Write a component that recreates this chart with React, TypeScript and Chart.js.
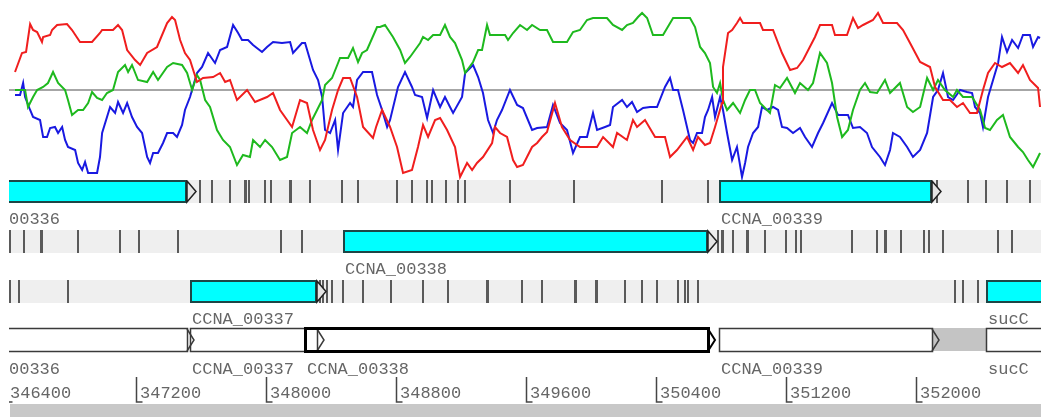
import React, { useEffect, useRef } from "react";
import { Chart, registerables } from "chart.js";

Chart.register(...registerables);

// ---- GC frame plot (x: base position, y: GC %) ----
const redX = [346455,346498,346523,346548,346566,346591,346621,346628,346671,346683,346714,346775,346806,346855,346929,346978,346991,347058,347089,347114,347145,347194,347225,347268,347329,347391,347421,347440,347471,347501,347532,347575,347612,347674,347717,347748,347778,347821,347883,347932,348006,348043,348086,348160,348209,348252,348289,348332,348363,348406,348443,348474,348517,348560,348597,348658,348677,348714,348763,348806,348843,348898,348935,348966,348997,349040,349071,349114,349163,349194,349237,349268,349298,349335,349391,349409,349440,349483,349520,349545,349581,349637,349668,349698,349729,349778,349821,349871,349932,350037,350074,350135,350160,350221,350258,350283,350332,350394,350455,350486,350529,350591,350628,350658,350701,350732,350763,350806,350812,350843,350868,350898,350917,350935,351040,351058,351120,351175,351225,351268,351305,351378,351409,351483,351501,351575,351612,351643,351674,351735,351766,351797,351883,351920,351963,352025,352086,352117,352166,352209,352252,352289,352332,352375,352412,352443,352486,352529,352578,352628,352658,352701,352751,352763];
const redY = [71.2,78.8,79.2,90.4,88.0,87.2,83.2,85.2,86.0,88.0,
  90.0,90.4,88.0,83.2,83.2,86.8,88.0,88.0,90.0,88.0,
  80.0,76.0,74.0,78.8,81.2,90.8,93.2,92.0,84.0,78.8,76.0,
  67.2,68.8,69.2,70.8,67.2,68.0,60.0,64.0,59.2,61.2,
  62.8,56.0,49.2,60.0,58.8,48.0,40.0,44.0,56.0,
  64.0,68.8,68.8,
  61.2,49.2,44.8,49.2,56.0,49.2,41.2,30.8,32.0,41.2,
  50.0,45.2,52.0,52.8,48.0,41.2,29.2,34.8,32.0,34.8,37.2,
  42.8,49.2,46.8,45.2,36.0,33.2,34.0,41.2,42.8,45.2,47.2,
  58.8,49.2,44.0,41.2,41.2,45.2,41.2,46.8,44.0,52.0,49.2,52.0,45.2,45.2,37.2,40.0,45.2,
  40.0,45.2,42.0,42.8,49.2,58.8,73.2,86.8,88.0,90.8,92.8,90.8,
  90.8,88.0,88.0,78.8,72.0,72.8,76.0,85.2,90.0,90.0,86.0,86.0,
  92.8,88.8,90.0,92.0,94.8,90.8,90.8,88.0,82.8,75.2,73.2,65.2,
  60.0,60.0,57.2,58.8,54.8,54.8,64.0,70.8,74.8,73.2,74.8,70.8,74.0,68.0,64.8,57.2];

const greenX = [346455,346517,346535,346566,346591,346628,346658,346689,346720,346763,
  346781,346806,346843,346874,346905,346929,346960,346991,347021,347058,
  347089,347132,347151,347175,347212,347268,347305,347335,347391,347428,
  347483,347514,347545,347575,347594,347625,347655,347698,347735,347778,
  347821,347858,347901,347920,347963,347994,348037,348086,348129,348160,
  348209,348252,348283,348314,348345,348363,348406,348443,348455,348505,
  348535,348566,348591,348621,348683,348701,348732,348781,348825,348855,
  348886,348917,348948,348966,348997,349028,349071,349101,349132,349163,
  349206,349225,349274,349305,349329,349360,349378,349471,349489,349520,
  349563,349606,349637,349686,349729,349766,349852,349889,349932,349975,
  350012,350098,350135,350191,350221,350258,350289,350314,350345,350381,
  350443,350505,350609,350640,350671,350701,350732,350751,350775,350794,
  350812,350837,350874,350917,350948,350978,351009,351040,351101,351132,
  351163,351206,351255,351286,351335,351366,351409,351452,351483,351514,
  351545,351581,351612,351655,351686,351717,351760,351809,351840,351901,
  351945,351981,352025,352068,352105,352135,352178,352228,352252,352289,
  352345,352394,352425,352455,352498,352535,352578,352628,352658,352689,
  352720,352751,352763];
const greenY = [64.0,64.0,57.2,61.2,64.0,65.2,66.8,71.2,66.8,64.0,
  60.0,54.0,56.0,56.0,58.8,63.2,60.8,60.0,62.8,64.0,
  71.2,74.0,71.2,74.0,68.0,67.2,71.2,68.0,73.2,74.8,
  74.0,70.8,64.0,70.0,68.0,60.0,57.2,48.0,44.0,41.2,
  34.0,38.0,37.2,44.0,41.2,44.0,41.2,36.0,37.2,46.8,
  49.2,46.8,52.0,56.0,60.0,66.0,68.8,74.8,76.8,76.8,
  80.8,75.2,78.8,80.0,89.2,89.2,90.0,85.2,80.0,74.8,
  77.2,80.0,82.8,85.2,84.0,86.0,86.0,90.0,85.2,82.8,
  76.0,70.8,75.2,80.0,80.0,90.0,86.0,86.0,84.0,86.8,
  90.0,88.0,90.0,88.0,88.0,83.2,83.2,87.2,88.0,92.0,
  92.8,92.8,90.0,88.0,90.0,90.8,93.2,94.8,92.8,86.0,
  86.0,92.8,92.8,89.2,81.2,78.8,74.8,65.2,62.8,66.8,
  60.0,56.0,58.8,54.8,60.0,64.0,64.0,58.8,54.8,66.0,
  64.8,68.8,62.8,66.8,64.0,66.8,78.8,74.8,66.8,53.2,
  45.2,48.0,56.0,64.0,66.8,63.2,62.8,68.0,62.8,66.8,
  57.2,55.2,57.2,68.8,64.0,68.0,64.0,61.2,64.0,61.2,
  61.2,56.0,48.8,48.0,52.0,54.0,45.2,41.2,39.2,36.0,
  33.2,37.2,38.8];

const blueX = [346455,346486,346505,346517,346548,346566,346609,346628,346652,346671,
  346701,346720,346745,346763,346781,346825,346843,346868,346886,346905,
  346960,346978,346991,347040,347071,347089,347120,347145,347175,347206,
  347237,347268,347286,347305,347335,347366,347391,347428,347452,347483,
  347501,347532,347575,347606,347643,347686,347717,347760,347797,347828,
  347852,347889,347920,347975,348006,348043,348098,348148,348166,348221,
  348240,348289,348320,348345,348363,348394,348425,348443,348474,348517,
  348535,348560,348597,348652,348683,348714,348745,348763,348812,348855,
  348898,348917,348960,348991,349028,349071,349101,349132,349151,349206,
  349225,349274,349305,349335,349366,349397,349421,349452,349501,349545,
  349581,349637,349668,349729,349766,349809,349852,349889,349932,349975,
  350012,350037,350086,350117,350135,350191,350221,350252,350283,350320,
  350363,350406,350455,350486,350505,350535,350566,350609,350628,350652,
  350683,350701,350720,350745,350763,350794,350812,350837,350868,350898,
  350929,350948,350966,350997,351028,351052,351083,351120,351151,351175,
  351206,351243,351286,351317,351360,351397,351428,351483,351520,351581,
  351612,351655,351698,351729,351778,351809,351840,351858,351901,351945,
  351981,352025,352068,352105,352135,352166,352197,352228,352271,352314,
  352345,352363,352394,352412,352443,352474,352505,352529,352560,352591,
  352628,352658,352701,352720,352751,352763];
const blueY = [62.0,62.0,66.8,61.2,56.0,53.2,52.0,45.2,45.2,48.8,
  49.2,46.8,49.2,44.0,41.2,40.0,34.8,32.0,35.2,30.8,
  30.8,37.2,46.8,57.2,54.8,59.2,54.8,58.8,53.2,49.2,
  46.8,37.2,34.8,38.8,38.8,42.8,46.8,46.8,45.2,50.0,
  56.0,61.2,70.8,73.2,78.8,74.8,80.0,81.2,90.0,86.8,
  84.0,84.0,82.0,79.2,81.2,83.2,82.8,83.2,78.8,82.8,
  82.8,72.0,68.0,61.2,48.0,46.8,52.0,40.0,54.8,58.8,
  57.2,68.0,71.2,71.2,62.0,56.0,49.2,52.0,65.2,71.2,
  65.2,62.0,61.2,52.8,64.0,57.2,61.2,57.2,54.8,61.2,
  70.8,74.0,69.2,62.8,52.0,46.8,52.0,56.0,64.0,58.0,
  56.8,48.0,48.8,49.2,58.0,50.8,48.0,38.8,45.2,45.2,
  54.8,48.0,49.2,50.0,57.2,60.0,57.2,59.2,55.2,56.8,
  57.2,57.2,65.2,68.8,64.0,64.0,56.0,44.0,42.8,46.8,
  46.8,53.2,56.0,61.2,53.2,61.2,56.0,46.8,36.0,41.2,
  29.2,34.8,41.2,46.8,49.2,57.2,56.0,57.2,56.0,49.2,
  48.8,46.8,48.8,45.2,41.2,46.8,50.8,58.8,54.0,54.0,
  48.8,49.2,46.8,41.2,37.2,34.0,40.0,46.8,45.2,41.2,
  37.2,40.0,46.8,61.2,64.0,70.8,61.2,60.0,64.0,63.2,
  62.8,57.2,54.8,49.2,61.2,68.0,74.8,85.2,79.2,84.0,
  80.8,86.0,86.0,81.2,85.2,84.8];

const MEAN_GC = 64;

// ---- stop codons per forward frame (base positions) ----
const frame1Stops = [347594,347668,347778,347871,347877,347895,347994,348031,348148,348154,348271,348468,348566,348806,348898,348991,349021,349108,349181,349225,349501,349895,350437,350720,352129,352320,352431,352560,352701];
const frame2Stops = [346425,346511,346615,346621,346843,347101,347218,347458,348092,348221,350781,350806,350812,350874,350960,350966,351071,351200,351261,351292,351606,351760,351809,351815,351908,352049,352080,352166,352505,352591];
const frame3Stops = [346425,346480,346781,348332,348351,348375,348406,348474,348597,348769,348966,349120,349360,349366,349575,349698,349901,349907,350031,350037,350209,350314,350406,350535,350578,350597,350658,352240,352289,352381];

// ---- CDS in frame tracks ----
const geneNames = ["CCNA_00336", "CCNA_00339", "CCNA_00338", "CCNA_00337", "sucC"];
const geneStarts = [346092, 350788, 348474, 347532, 352431];
const geneEnds = [347514, 352098, 350720, 348314, 353600];
const geneFrames = [0, 0, 1, 2, 2];

// ---- feature track ----
const featNames = ["CCNA_00336", "CCNA_00337", "CCNA_00338", "CCNA_00339", "sucC"];
const featStarts = [346092, 347532, 348240, 350788, 352431];
const featEnds = [347514, 348314, 350720, 352098, 353600];
const featSelected = [false, false, true, false, false];
const regionStarts = [352098];
const regionEnds = [352431];

// ---- ruler ----
const rulerTicks = [346400, 347200, 348000, 348800, 349600, 350400, 351200, 352000];

const X_MIN = 346418;
const X_MAX = 352769;
const GC_MIN = 28;
const GC_MAX = 100;

const W = 1041;
const H = 417;
const PLOT_BOTTOM = 180;
const FRAME_TOPS = [180, 230, 280];
const BAND_H = 23;
const FEAT_TOP = 328;
const FEAT_H = 23;
const FONT = '17px "Liberation Mono", "DejaVu Sans Mono", monospace';

const toPts = (xs: number[], ys: number[]) =>
  xs.slice(0, Math.min(xs.length, ys.length)).map((x, i) => ({ x, y: ys[i] }));

const tracksPlugin = {
  id: "artemisTracks",
  beforeDraw(chart: any) {
    const ctx = chart.ctx;
    ctx.save();
    ctx.fillStyle = "#ffffff";
    ctx.fillRect(0, 0, chart.width, chart.height);
    ctx.restore();
  },
  afterDraw(chart: any) {
    const ctx: CanvasRenderingContext2D = chart.ctx;
    const xs = chart.scales.x;
    const L = chart.chartArea.left;
    const R = chart.chartArea.right;
    const px = (b: number) => Math.round(xs.getPixelForValue(b));
    ctx.save();
    ctx.beginPath();
    ctx.rect(L, PLOT_BOTTOM, R - L, chart.height - PLOT_BOTTOM);
    ctx.clip();

    // frame bands + stop codons
    const stops = [frame1Stops, frame2Stops, frame3Stops];
    FRAME_TOPS.forEach((top, f) => {
      ctx.fillStyle = "#efefef";
      ctx.fillRect(L, top, R - L, BAND_H);
      ctx.strokeStyle = "#5a5a5a";
      ctx.lineWidth = 2;
      ctx.beginPath();
      for (const s of stops[f]) {
        const x = px(s);
        ctx.moveTo(x, top);
        ctx.lineTo(x, top + BAND_H);
      }
      ctx.stroke();
    });

    ctx.font = FONT;
    ctx.textBaseline = "alphabetic";

    // genes in frame tracks
    geneNames.forEach((name, i) => {
      const top = FRAME_TOPS[geneFrames[i]];
      const x0 = px(geneStarts[i]);
      const x1 = px(geneEnds[i]);
      ctx.fillStyle = "#00ffff";
      ctx.fillRect(x0, top, x1 - x0, BAND_H);
      ctx.strokeStyle = "#1d4646";
      ctx.lineWidth = 2;
      ctx.strokeRect(x0 + 1, top + 1, x1 - x0 - 2, BAND_H - 2);
      ctx.beginPath();
      ctx.moveTo(x1, top + 1);
      ctx.lineTo(x1 + 9, top + BAND_H / 2);
      ctx.lineTo(x1, top + BAND_H - 1);
      ctx.closePath();
      ctx.fillStyle = "#e4e4e4";
      ctx.fill();
      ctx.strokeStyle = "#202020";
      ctx.lineWidth = 1.5;
      ctx.stroke();
      ctx.fillStyle = "#666666";
      ctx.fillText(name, x0 + 2, top + BAND_H + 21);
    });

    // feature track
    regionStarts.forEach((s, i) => {
      ctx.fillStyle = "#c4c4c4";
      ctx.fillRect(px(s), FEAT_TOP, px(regionEnds[i]) - px(s), FEAT_H);
    });
    featNames.forEach((_, i) => {
      const x0 = px(featStarts[i]);
      const x1 = px(featEnds[i]);
      ctx.fillStyle = "#ffffff";
      ctx.fillRect(x0, FEAT_TOP, x1 - x0, FEAT_H);
    });
    featNames.forEach((name, i) => {
      const x0 = px(featStarts[i]);
      const x1 = px(featEnds[i]);
      const sel = featSelected[i];
      ctx.lineWidth = sel ? 3 : 1.5;
      ctx.strokeStyle = sel ? "#000000" : "#3a3a3a";
      ctx.strokeRect(x0 + 0.5, FEAT_TOP + 0.5, x1 - x0, FEAT_H);
      ctx.beginPath();
      ctx.moveTo(x1, FEAT_TOP + 1);
      ctx.lineTo(x1 + 7, FEAT_TOP + FEAT_H / 2 + 0.5);
      ctx.lineTo(x1, FEAT_TOP + FEAT_H);
      ctx.lineWidth = sel ? 2 : 1.5;
      ctx.stroke();
      ctx.fillStyle = "#666666";
      ctx.fillText(name, x0 + 2, 374);
    });

    // ruler
    ctx.strokeStyle = "#454545";
    ctx.lineWidth = 1.5;
    rulerTicks.forEach((t) => {
      const x = px(t) + 0.5;
      ctx.beginPath();
      ctx.moveTo(x, 377);
      ctx.lineTo(x, 402);
      ctx.lineTo(x + 6, 402);
      ctx.stroke();
      ctx.fillStyle = "#666666";
      ctx.fillText(String(t), x + 3.5, 398);
    });

    ctx.fillStyle = "#c8c8c8";
    ctx.fillRect(L + 1, 404, R - L, H - 404);
    ctx.restore();
  },
};

export default function App() {
  const ref = useRef<HTMLCanvasElement>(null);
  useEffect(() => {
    document.body.style.margin = "0";
    const canvas = ref.current;
    if (!canvas) return;
    const chart = new Chart(canvas, {
      type: "line",
      data: {
        datasets: [
          {
            label: "frame 1",
            data: toPts(redX, redY),
            borderColor: "rgb(240,30,30)",
            borderWidth: 2,
            pointRadius: 0,
            order: 1,
          },
          {
            label: "frame 2",
            data: toPts(greenX, greenY),
            borderColor: "rgb(30,185,30)",
            borderWidth: 2,
            pointRadius: 0,
            order: 1,
          },
          {
            label: "frame 3",
            data: toPts(blueX, blueY),
            borderColor: "rgb(25,25,225)",
            borderWidth: 2,
            pointRadius: 0,
            order: 1,
          },
          {
            label: "mean",
            data: [{ x: X_MIN, y: MEAN_GC }, { x: X_MAX, y: MEAN_GC }],
            borderColor: "#a6a6a6",
            borderWidth: 2,
            pointRadius: 0,
            order: 10,
          },
        ],
      },
      options: {
        animation: false,
        responsive: false,
        devicePixelRatio: 1,
        events: [],
        layout: { padding: { left: 9, right: 0, top: 0, bottom: H - PLOT_BOTTOM } },
        plugins: { legend: { display: false }, tooltip: { enabled: false } },
        elements: { line: { tension: 0 }, point: { radius: 0 } },
        scales: {
          x: { type: "linear", min: X_MIN, max: X_MAX, display: false },
          y: { type: "linear", min: GC_MIN, max: GC_MAX, display: false },
        },
      },
      plugins: [tracksPlugin],
    } as any);
    return () => chart.destroy();
  }, []);
  return (
    <div style={{ position: "fixed", left: 0, top: 0, width: W, height: H, background: "#fff" }}>
      <canvas ref={ref} width={W} height={H} style={{ display: "block", width: W, height: H }} />
    </div>
  );
}
